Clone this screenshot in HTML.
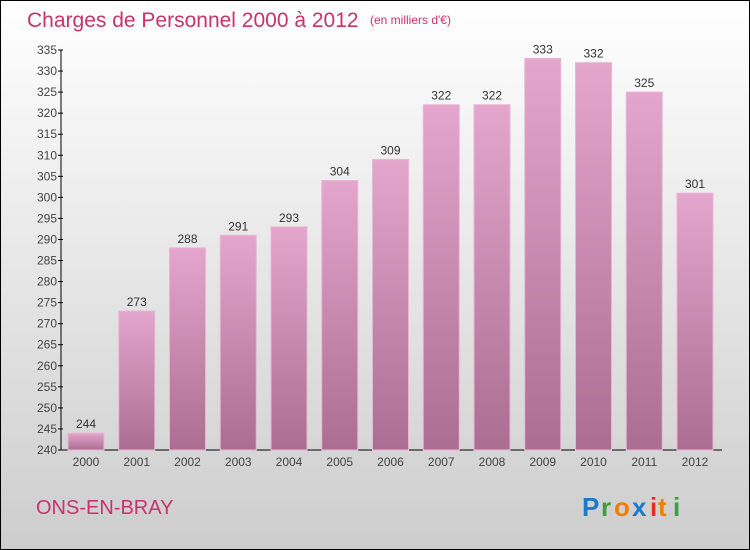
<!DOCTYPE html>
<html><head><meta charset="utf-8"><style>
html,body{margin:0;padding:0}
body{width:750px;height:550px;overflow:hidden}
svg{display:block;font-family:"Liberation Sans",sans-serif}
</style></head><body>
<svg id="c" width="750" height="550" xmlns="http://www.w3.org/2000/svg">
<defs>
<linearGradient id="bg" x1="0" y1="0" x2="0" y2="1"><stop offset="0" stop-color="#ffffff"/><stop offset="1" stop-color="#cdcdcd"/></linearGradient>
<linearGradient id="bar" x1="0" y1="0" x2="0" y2="1"><stop offset="0" stop-color="#e4a6cc"/><stop offset="1" stop-color="#ab6d92"/></linearGradient>
</defs>
<rect x="0.5" y="0.5" width="749" height="549" fill="url(#bg)" stroke="#000"/>
<text x="27" y="27" font-size="21" fill="#c8336a">Charges de Personnel 2000 à 2012</text>
<text x="370" y="24" font-size="12" fill="#c8336a">(en milliers d'€)</text>
<text x="36" y="514" font-size="20" fill="#c8336a">ONS-EN-BRAY</text>
<g font-size="26" font-weight="bold" font-family="'Liberation Sans',sans-serif">
<text x="582" y="516" fill="#1a7ad0">P</text><text x="601" y="516" fill="#3aa03a">r</text><text x="614" y="516" fill="#f08000">o</text><text x="632" y="516" fill="#1a7ad0">x</text><text x="650" y="516" fill="#e03020">i</text><text x="658" y="516" fill="#f08000">t</text><text x="673" y="516" fill="#3aa03a">i</text>
</g>
<g id="axes"></g>
<g id="bars"></g>
</svg>
<script>
const years=["2000","2001","2002","2003","2004","2005","2006","2007","2008","2009","2010","2011","2012"];
const values=[244,273,288,291,293,304,309,322,322,333,332,325,301];
const yTicks=[240,245,250,255,260,265,270,275,280,285,290,295,300,305,310,315,320,325,330,335];
const NS="http://www.w3.org/2000/svg";
const yMin=240,yMax=335,y0=450,y1=50,x0=61,step=50.75,firstX=86,bw=36;
const ys=v=>y0-(v-yMin)/(yMax-yMin)*(y0-y1);
const xs=i=>firstX+i*step;
function mk(t,a,p){const e=document.createElementNS(NS,t);for(const k in a)e.setAttribute(k,a[k]);p.appendChild(e);return e;}
const ax=document.getElementById('axes'),bg=document.getElementById('bars');
const yl=mk('line',{x1:x0,y1:y1,x2:x0,y2:y0,stroke:'#000','stroke-width':1},ax);


const xl=mk('line',{x1:x0,y1:y0,x2:722,y2:y0,stroke:'#000','stroke-width':1},ax);


yTicks.forEach(v=>{
  const y=ys(v);
  mk('line',{x1:x0-3,y1:y,x2:x0+2,y2:y,stroke:'#000'},ax);
  const t=mk('text',{x:x0-4,y:y+4,'text-anchor':'end','font-size':12,fill:'#444'},ax);
  t.textContent=v;
  
  
});
values.forEach((v,i)=>{
  const cx=xs(i),top=ys(v);
  const r=mk('rect',{x:cx-bw/2,y:top,width:bw,height:y0-top,fill:'url(#bar)',stroke:'#e9b6d4','stroke-width':1},bg);
  
  
  const t=mk('text',{x:cx,y:top-5,'text-anchor':'middle','font-size':12,fill:'#333'},bg);
  t.textContent=v;
  
  
  const xt=mk('text',{x:cx,y:466,'text-anchor':'middle','font-size':12,fill:'#444'},ax);
  xt.textContent=years[i];
  
  
});
</script>
</body></html>
